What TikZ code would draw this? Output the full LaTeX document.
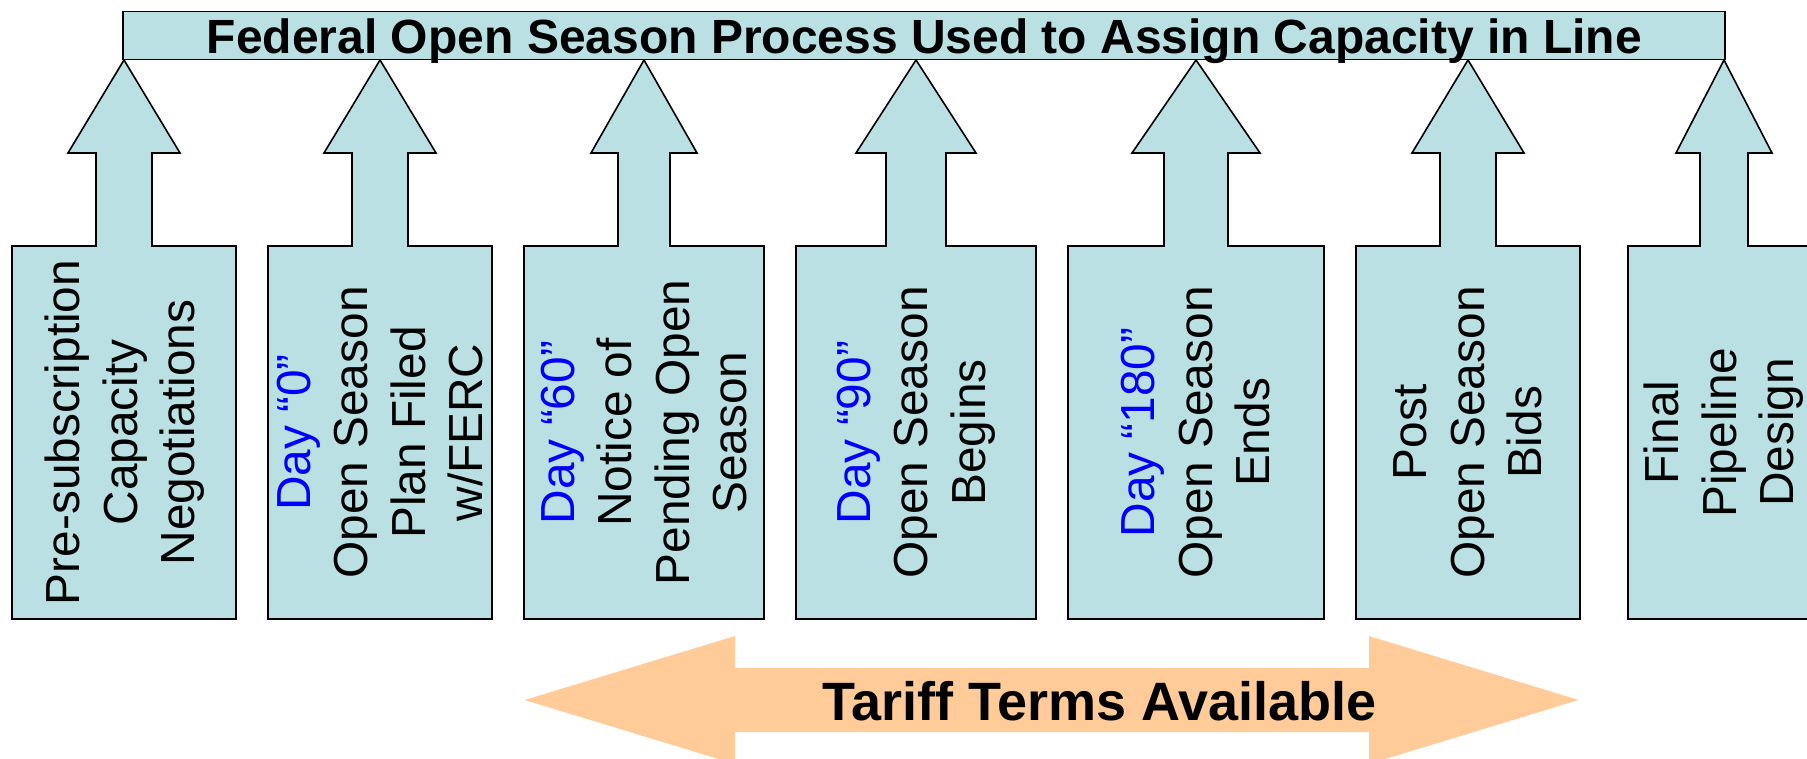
\documentclass[tikz,border=0pt]{standalone}
\usepackage{fontspec}
\setmainfont{Liberation Sans}
\definecolor{boxfill}{RGB}{187,224,227}
\definecolor{tarifffill}{RGB}{255,204,153}
\definecolor{dayblue}{RGB}{0,0,255}
\newcommand\calloutshape[5]{%
  \draw[calloutbox] (#1,619) -- (#1,246) -- ({#3-#5},246) -- ({#3-#5},153) -- ({#3-#4},153) -- (#3,60)
    -- ({#3+#4},153) -- ({#3+#5},153) -- ({#3+#5},246) -- (#2,246) -- (#2,619) -- cycle;}
\begin{document}
\begin{tikzpicture}[x=1pt,y=-1pt,
  calloutbox/.style={draw=black, line width=1.6pt, fill=boxfill, line join=miter},
  titlebox/.style={draw=black, line width=1.6pt, fill=boxfill},
  boxtext/.style={rotate=90, align=center, inner sep=0pt, font=\fontsize{47.8}{57.5}\selectfont},
  titletext/.style={inner sep=0pt, anchor=base, font=\bfseries\fontsize{48}{56}\selectfont},
  tarifftext/.style={inner sep=0pt, anchor=base, font=\bfseries\fontsize{54}{62}\selectfont}]
\useasboundingbox (0,0) rectangle (1807,759);
\clip (0,0) rectangle (1807,759);
% tariff double arrow
\fill[tarifffill] (524.6,700) -- (735,636) -- (735,668) -- (1369,668) -- (1369,636) -- (1578.6,700)
  -- (1369,764) -- (1369,732) -- (735,732) -- (735,764) -- cycle;
\node[tarifftext] (tariff) at (1099.5,720.5) {Tariff Terms Available};
% callouts
\calloutshape{12}{236}{124}{56}{28}
\calloutshape{268}{492}{380}{56}{28}
\calloutshape{524}{764}{644}{53}{26}
\calloutshape{796}{1036}{916}{60}{30}
\calloutshape{1068}{1324}{1196}{64}{32}
\calloutshape{1356}{1580}{1468}{56}{28}
\calloutshape{1628}{1820}{1724}{48}{24}
% title
\draw[titlebox] (123,11.7) rectangle (1725,59.7);
\node[titletext] (title) at (924.5,53.3) {Federal Open Season Process Used to Assign Capacity in Line};
% box texts
\node[boxtext] (t1) at (125,432.5) {Pre-subscription\\Capacity\\Negotiations};
\node[boxtext] (t2) at (380,432.5) {\textcolor{dayblue}{Day “0”}\\Open Season\\Plan Filed\\w/FERC};
\node[boxtext] (t3) at (644,432.5) {\textcolor{dayblue}{Day “60”}\\Notice of\\Pending Open\\Season};
\node[boxtext] (t4) at (916,432.5) {\textcolor{dayblue}{Day “90”}\\Open Season\\Begins};
\node[boxtext] (t5) at (1196,432.5) {\textcolor{dayblue}{Day “180”}\\Open Season\\Ends};
\node[boxtext] (t6) at (1468,432.5) {Post\\Open Season\\Bids};
\node[boxtext] (t7) at (1724,432.5) {Final\\Pipeline\\Design};
\end{tikzpicture}
\end{document}
